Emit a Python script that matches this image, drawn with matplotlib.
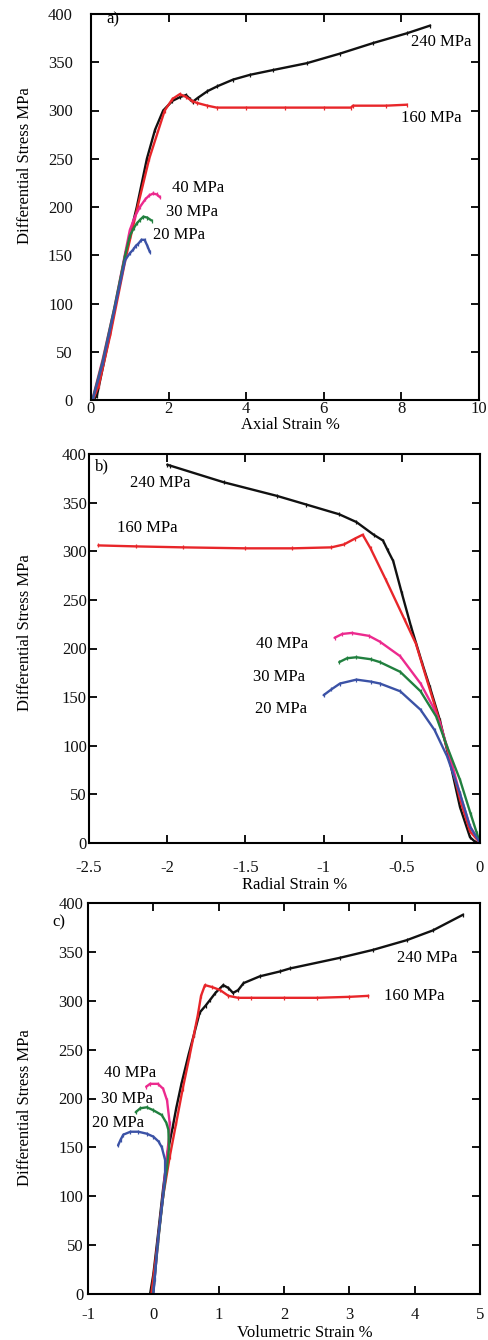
import matplotlib
matplotlib.use("Agg")
import matplotlib.pyplot as plt

plt.rcParams['font.family'] = ['Liberation Serif', 'DejaVu Serif']
plt.rcParams['font.size'] = 12

# ---------------- data: panel a (axial strain %) ----------------
a_x_240 = [0.05, 0.15, 0.49, 0.88, 1.18, 1.44, 1.65, 1.86, 2.1, 2.3, 2.45, 2.55, 2.62, 2.75, 3.0, 3.25, 3.66, 4.1, 4.7, 5.56, 6.42, 7.28, 8.14, 8.74]
a_y_240 = [0, 4, 69, 150, 200, 250, 280, 300, 310, 314, 316, 312, 309, 313, 320, 325, 332, 337, 342, 349, 359, 370, 380, 388]
a_x_160 = [0.05, 0.2, 0.5, 0.9, 1.2, 1.5, 1.9, 2.1, 2.29, 2.45, 2.6, 2.72, 3.0, 3.24, 4.0, 5.0, 6.0, 6.7, 6.75, 7.6, 8.14]
a_y_160 = [0, 15, 68, 148, 200, 250, 300, 312, 317, 314, 310, 308, 305, 303, 303, 303, 303, 303, 305, 305, 306]
a_x_40 = [0.05, 0.3, 0.6, 0.88, 1.0, 1.13, 1.26, 1.4, 1.5, 1.6, 1.7, 1.78]
a_y_40 = [3, 42, 95, 152, 176, 190, 200, 208, 212, 214, 213, 210]
a_x_30 = [0.05, 0.3, 0.6, 0.88, 1.0, 1.1, 1.18, 1.27, 1.35, 1.45, 1.56]
a_y_30 = [2, 40, 95, 150, 170, 178, 183, 187, 190, 189, 186]
a_x_20 = [0.05, 0.3, 0.6, 0.88, 1.0, 1.09, 1.16, 1.22, 1.3, 1.38, 1.45, 1.52]
a_y_20 = [1, 38, 93, 145, 152, 156, 160, 162, 166, 166, 160, 153]

# ---------------- data: panel b (radial strain %) ----------------
b_x_240 = [-2.0, -1.98, -1.64, -1.3, -1.11, -0.9, -0.79, -0.68, -0.62, -0.59, -0.555, -0.5, -0.44, -0.37, -0.32, -0.256, -0.19, -0.128, -0.064, -0.03, 0.0]
b_y_240 = [389, 388, 371, 357, 348, 338, 330, 317, 311, 301, 290, 257, 222, 185, 160, 126, 82, 37, 6, 1, 0]
b_x_160 = [-2.44, -2.2, -1.9, -1.5, -1.2, -0.95, -0.87, -0.8, -0.75, -0.7, -0.6, -0.48, -0.41, -0.34, -0.26, -0.19, -0.128, -0.064, 0.0]
b_y_160 = [306, 305, 304, 303, 303, 304, 307, 313, 317, 303, 270, 229, 205, 168, 126, 85, 45, 12, 0]
b_x_40 = [-0.93, -0.88, -0.82, -0.71, -0.64, -0.51, -0.38, -0.3, -0.256, -0.19, -0.128, -0.064, 0.0]
b_y_40 = [211, 215, 216, 213, 207, 192, 164, 140, 123, 88, 50, 17, 0]
b_x_30 = [-0.9, -0.85, -0.79, -0.7, -0.64, -0.51, -0.38, -0.28, -0.21, -0.128, -0.06, -0.02, 0.0]
b_y_30 = [186, 190, 191, 189, 186, 176, 156, 130, 99, 65, 30, 10, 0]
b_x_20 = [-1.0, -0.95, -0.895, -0.79, -0.7, -0.64, -0.51, -0.38, -0.29, -0.21, -0.128, -0.064, 0.0]
b_y_20 = [152, 158, 164, 168, 166, 164, 156, 137, 116, 89, 51, 17, 0]

# ---------------- data: panel c (volumetric strain %) ----------------
c_x_240 = [-0.05, 0.0, 0.07, 0.15, 0.22, 0.3, 0.35, 0.43, 0.54, 0.62, 0.71, 0.8, 0.87, 0.95, 1.07, 1.15, 1.22, 1.3, 1.38, 1.63, 1.94, 2.09, 2.86, 3.36, 3.88, 4.28, 4.74]
c_y_240 = [0, 20, 60, 108, 145, 172, 190, 215, 245, 265, 288, 295, 301, 308, 316, 313, 308, 311, 318, 325, 330, 333, 344, 352, 362, 372, 388]
c_x_160 = [-0.03, 0.07, 0.15, 0.25, 0.35, 0.45, 0.55, 0.62, 0.68, 0.73, 0.79, 0.9, 1.02, 1.15, 1.3, 1.5, 2.0, 2.5, 3.0, 3.29]
c_y_160 = [0, 55, 100, 140, 175, 210, 242, 265, 285, 305, 316, 314, 311, 305, 303, 303, 303, 303, 304, 305]
c_x_40 = [-0.11, -0.05, 0.07, 0.15, 0.21, 0.25, 0.24, 0.2, 0.15, 0.07, 0.0]
c_y_40 = [212, 215, 215, 210, 198, 175, 160, 137, 103, 52, 2]
c_x_30 = [-0.27, -0.2, -0.1, 0.0, 0.13, 0.2, 0.23, 0.24, 0.21, 0.15, 0.07, 0.0]
c_y_30 = [186, 190, 191, 188, 183, 175, 168, 150, 130, 100, 52, 2]
c_x_20 = [-0.54, -0.5, -0.46, -0.35, -0.23, -0.1, 0.0, 0.08, 0.13, 0.18, 0.18, 0.14, 0.07, 0.02, 0.0]
c_y_20 = [152, 158, 163, 166, 166, 164, 161, 156, 150, 137, 120, 95, 55, 15, 0]

labels = ["240 MPa", "160 MPa", "40 MPa", "30 MPa", "20 MPa"]
colors = ["#111111", "#e8262a", "#ec2a8e", "#21803f", "#3b52a6"]

fig = plt.figure(figsize=(4.89, 13.40), dpi=100)

def style(ax, xlim, xticks, xtl, ylabel_pos, xlabel, xlabel_pos, xpad, ypad):
    ax.set_xlim(*xlim)
    ax.set_ylim(0, 400)
    ax.set_xticks(xticks)
    ax.set_xticklabels(xtl)
    ax.set_yticks(range(0, 401, 50))
    for s in ax.spines.values():
        s.set_linewidth(1.5)
    ax.tick_params(axis='both', which='major', direction='in', length=6, width=1.4,
                   top=True, right=True, labelsize=12, colors='#111111')
    ax.tick_params(axis='x', pad=xpad)
    ax.tick_params(axis='y', pad=ypad)
    ax.text(ylabel_pos[0], ylabel_pos[1], "Differential Stress MPa", rotation=90,
            ha='center', va='center', transform=ax.transAxes, fontsize=12)
    ax.text(xlabel_pos[0], xlabel_pos[1], xlabel, ha='center', va='center',
            transform=ax.transAxes, fontsize=12)

def draw(ax, xs, ys):
    for x, y, c in zip(xs, ys, colors):
        ax.plot(x, y, color=c, lw=1.7, marker='|', ms=3.5, mew=0.9,
                solid_joinstyle='round', solid_capstyle='round')

# panel a
axa = fig.add_axes([91/489, 1-400/1340, 388/489, 386/1340])
draw(axa, [a_x_240, a_x_160, a_x_40, a_x_30, a_x_20], [a_y_240, a_y_160, a_y_40, a_y_30, a_y_20])
style(axa, (0, 10), [0, 2, 4, 6, 8, 10], ["0", "2", "4", "6", "8", "10"],
      (-0.170, 0.606), "Axial Strain %", (0.513, -0.066), 0.5, 13)
for txt, (x, y) in zip(labels, [(8.25, 371), (8.0, 292), (2.1, 220), (1.93, 195), (1.6, 171)]):
    axa.text(x, y, txt, ha='left', va='center', fontsize=12)
axa.text(0.39, 394, "a)", ha='left', va='center', fontsize=12)

# panel b
axb = fig.add_axes([89/489, 1-843/1340, 391/489, 389/1340])
draw(axb, [b_x_240, b_x_160, b_x_40, b_x_30, b_x_20], [b_y_240, b_y_160, b_y_40, b_y_30, b_y_20])
style(axb, (-2.5, 0), [-2.5, -2, -1.5, -1, -0.5, 0], ["-2.5", "-2", "-1.5", "-1", "-0.5", "0"],
      (-0.164, 0.542), "Radial Strain %", (0.527, -0.108), 12, 1.5)
for txt, (x, y) in zip(labels, [(-2.24, 370), (-2.32, 324), (-1.43, 205), (-1.45, 171), (-1.44, 138)]):
    axb.text(x, y, txt, ha='left', va='center', fontsize=12)
axb.text(-2.46, 387, "b)", ha='left', va='center', fontsize=12)

# panel c
axc = fig.add_axes([88/489, 1-1294/1340, 392/489, 391/1340])
draw(axc, [c_x_240, c_x_160, c_x_40, c_x_30, c_x_20], [c_y_240, c_y_160, c_y_40, c_y_30, c_y_20])
style(axc, (-1, 5), [-1, 0, 1, 2, 3, 4, 5], ["-1", "0", "1", "2", "3", "4", "5"],
      (-0.161, 0.476), "Volumetric Strain %", (0.553, -0.099), 9.5, 3.5)
for txt, (x, y) in zip(labels, [(3.73, 344), (3.53, 305), (-0.755, 226), (-0.80, 199), (-0.94, 175)]):
    axc.text(x, y, txt, ha='left', va='center', fontsize=12)
axc.text(-1.54, 380, "c)", ha='left', va='center', fontsize=12, clip_on=False)

fig.savefig("out.png", dpi=100)
